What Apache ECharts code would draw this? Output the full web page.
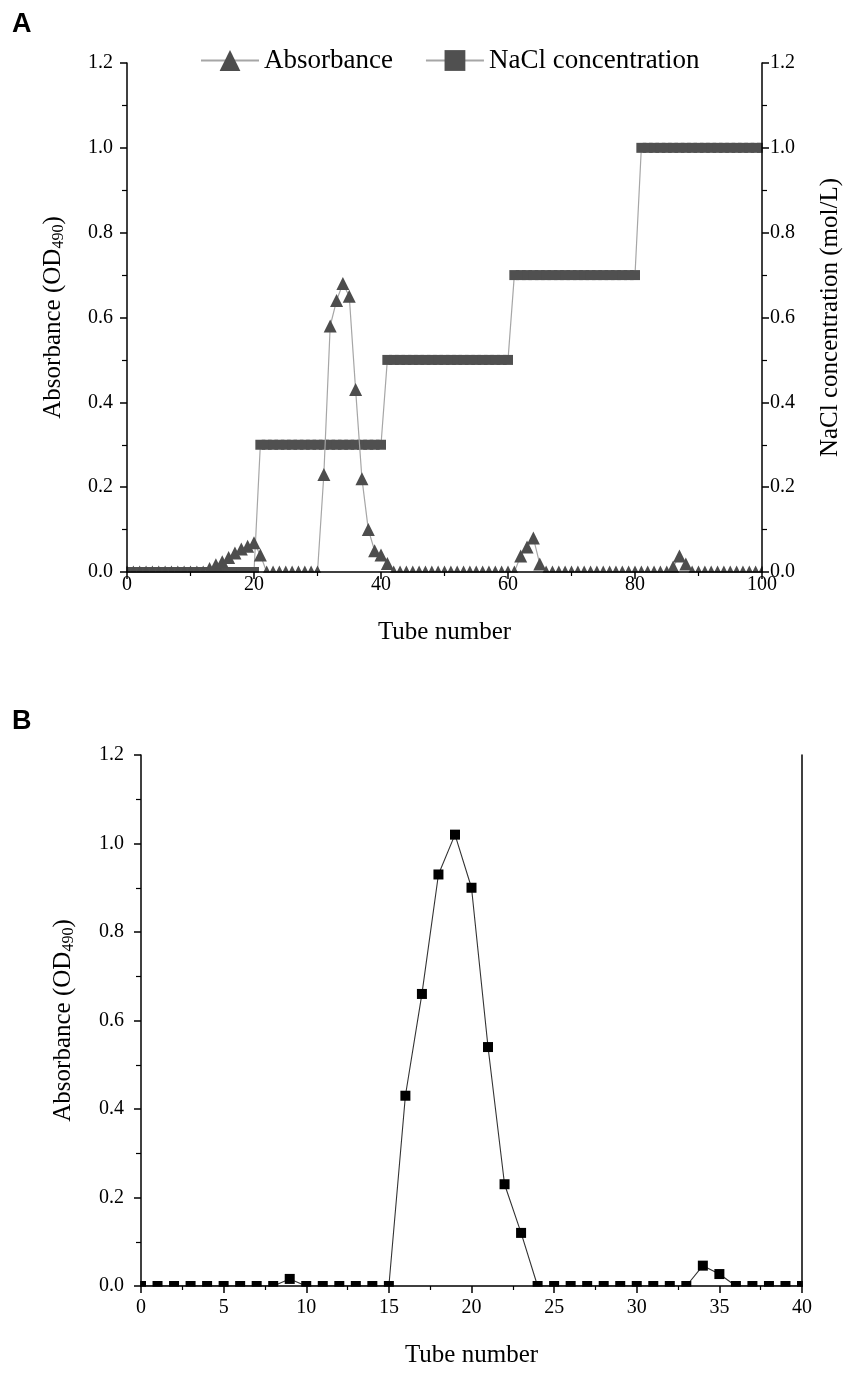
<!DOCTYPE html>
<html>
<head>
<meta charset="utf-8">
<script src="https://cdn.jsdelivr.net/npm/echarts@6/dist/echarts.min.js"></script>
<style>
  html, body { margin: 0; padding: 0; background: #fff; }
  #main { width: 851px; height: 1375px; }
</style>
</head>
<body>
<div id="main"></div>
<script>
// panel A: tube 0..100 (index = tube number)
const absorbanceA = [
  0, 0, 0, 0, 0, 0, 0, 0, 0, 0,
  0, 0, 0, 0.008, 0.017, 0.024, 0.034, 0.045, 0.054, 0.061,
  0.069, 0.04, 0, 0, 0, 0, 0, 0, 0, 0,
  0, 0.23, 0.58, 0.64, 0.68, 0.65, 0.43, 0.22, 0.10, 0.05,
  0.04, 0.02, 0, 0, 0, 0, 0, 0, 0, 0,
  0, 0, 0, 0, 0, 0, 0, 0, 0, 0,
  0, 0, 0.038, 0.059, 0.08, 0.019, 0, 0, 0, 0,
  0, 0, 0, 0, 0, 0, 0, 0, 0, 0,
  0, 0, 0, 0, 0, 0, 0.012, 0.038, 0.019, 0,
  0, 0, 0, 0, 0, 0, 0, 0, 0, 0,
  0
];
const naclA = [
  0, 0, 0, 0, 0, 0, 0, 0, 0, 0,
  0, 0, 0, 0, 0, 0, 0, 0, 0, 0,
  0, 0.3, 0.3, 0.3, 0.3, 0.3, 0.3, 0.3, 0.3, 0.3,
  0.3, 0.3, 0.3, 0.3, 0.3, 0.3, 0.3, 0.3, 0.3, 0.3,
  0.3, 0.5, 0.5, 0.5, 0.5, 0.5, 0.5, 0.5, 0.5, 0.5,
  0.5, 0.5, 0.5, 0.5, 0.5, 0.5, 0.5, 0.5, 0.5, 0.5,
  0.5, 0.7, 0.7, 0.7, 0.7, 0.7, 0.7, 0.7, 0.7, 0.7,
  0.7, 0.7, 0.7, 0.7, 0.7, 0.7, 0.7, 0.7, 0.7, 0.7,
  0.7, 1.0, 1.0, 1.0, 1.0, 1.0, 1.0, 1.0, 1.0, 1.0,
  1.0, 1.0, 1.0, 1.0, 1.0, 1.0, 1.0, 1.0, 1.0, 1.0,
  1.0
];
// panel B: tube 0..40
const absorbanceB = [
  0, 0, 0, 0, 0, 0, 0, 0, 0, 0.016,
  0, 0, 0, 0, 0, 0, 0.43, 0.66, 0.93, 1.02,
  0.90, 0.54, 0.23, 0.12, 0, 0, 0, 0, 0, 0,
  0, 0, 0, 0, 0.046, 0.027, 0, 0, 0, 0,
  0
];
const legendNames = ['Absorbance', 'NaCl concentration'];

const serif = 'Liberation Serif';
const gA = { left: 127, top: 63, width: 635, height: 509 };
const gB = { left: 141, top: 755, width: 661, height: 531 };

const chart = echarts.init(document.getElementById('main'), null, { renderer: 'canvas' });

const odName = '{a|Absorbance (OD}{s|490}{a|)}';
const odRich = {
  a: { fontFamily: serif, fontSize: 25, color: '#000' },
  s: { fontFamily: serif, fontSize: 16, color: '#000', padding: [12, 0, 0, 0] }
};

function xAxisOf(gridIndex, max, interval, margin) {
  return {
    type: 'value', gridIndex, min: 0, max, interval, z: 100,
    name: 'Tube number', nameLocation: 'middle', nameGap: margin + 45,
    nameTextStyle: { fontFamily: serif, fontSize: 25, color: '#000' },
    axisLine: { show: true, onZero: false, lineStyle: { color: '#000', width: 1.5 } },
    axisTick: { show: true, length: 7, lineStyle: { color: '#000', width: 1.5 } },
    minorTick: { show: true, splitNumber: 2, length: 4, lineStyle: { color: '#000', width: 1.2 } },
    splitLine: { show: false },
    axisLabel: { fontFamily: serif, fontSize: 20, color: '#000', margin, showMaxLabel: true, showMinLabel: true }
  };
}

function yAxisOf(gridIndex, position, name, rich, labels, margin, nameGap) {
  return {
    type: 'value', gridIndex, position, min: 0, max: 1.2, interval: 0.2, z: 100,
    name, nameLocation: 'middle', nameGap, nameRotate: 90,
    nameTextStyle: { fontFamily: serif, fontSize: 25, color: '#000', rich },
    axisLine: { show: true, onZero: false, lineStyle: { color: '#000', width: 1.5 } },
    axisTick: { show: labels, length: 7, lineStyle: { color: '#000', width: 1.5 } },
    minorTick: { show: labels, splitNumber: 2, length: 5, lineStyle: { color: '#000', width: 1.2 } },
    splitLine: { show: false },
    axisLabel: {
      show: labels, fontFamily: serif, fontSize: 20, color: '#000', margin,
      formatter: v => v.toFixed(1)
    }
  };
}

// white strips just outside the plot frame, so edge symbols look clipped
function masks(g) {
  const b = g.top + g.height;
  return [
    { type: 'rect', z: 50, silent: true,
      shape: { x: g.left - 10, y: b + 0.8, width: g.width + 20, height: 8 },
      style: { fill: '#fff' } },
    { type: 'rect', z: 50, silent: true,
      shape: { x: g.left - 9, y: b - 12, width: 8.2, height: 20 },
      style: { fill: '#fff' } },
    { type: 'rect', z: 50, silent: true,
      shape: { x: g.left + g.width + 0.8, y: g.top - 8, width: 8, height: g.height + 16 },
      style: { fill: '#fff' } }
  ];
}

const option = {
  backgroundColor: '#fff',
  animation: false,
  title: [
    { text: 'A', left: 7, top: 6, textStyle: { fontFamily: 'Liberation Sans', fontWeight: 'bold', fontSize: 27, color: '#000' } },
    { text: 'B', left: 7, top: 703, textStyle: { fontFamily: 'Liberation Sans', fontWeight: 'bold', fontSize: 27, color: '#000' } }
  ],
  legend: {
    data: legendNames, left: 195, top: 42, itemWidth: 58, itemHeight: 26, itemGap: 32,
    textStyle: { fontFamily: serif, fontSize: 27, color: '#000' }
  },
  grid: [
    { left: gA.left, top: gA.top, width: gA.width, height: gA.height },
    { left: gB.left, top: gB.top, width: gB.width, height: gB.height }
  ],
  xAxis: [
    xAxisOf(0, 100, 20, 3),
    xAxisOf(1, 40, 5, 12)
  ],
  yAxis: [
    yAxisOf(0, 'left', odName, odRich, true, 14, 60),
    yAxisOf(0, 'right', 'NaCl concentration (mol/L)', undefined, true, 8, 56),
    yAxisOf(1, 'left', odName, odRich, true, 17, 64),
    yAxisOf(1, 'right', '', undefined, false, 8, 40)
  ],
  graphic: masks(gA).concat(masks(gB)),
  series: [
    {
      name: legendNames[0], type: 'line', xAxisIndex: 0, yAxisIndex: 0, z: 3,
      data: absorbanceA.map((v, i) => [i, v]),
      symbol: 'triangle', symbolSize: 13, showAllSymbol: true,
      itemStyle: { color: '#4d4d4d' },
      lineStyle: { color: '#a6a6a6', width: 1.2 }
    },
    {
      name: legendNames[1], type: 'line', xAxisIndex: 0, yAxisIndex: 1, z: 2,
      data: naclA.map((v, i) => [i, v]),
      symbol: 'rect', symbolSize: [10, 10], showAllSymbol: true,
      itemStyle: { color: '#505050' },
      lineStyle: { color: '#a6a6a6', width: 1.2 }
    },
    {
      type: 'line', xAxisIndex: 1, yAxisIndex: 2,
      data: absorbanceB.map((v, i) => [i, v]),
      symbol: 'rect', symbolSize: 10, showAllSymbol: true,
      itemStyle: { color: '#000' },
      lineStyle: { color: '#333', width: 1.1 }
    }
  ]
};

chart.setOption(option);
</script>
</body>
</html>
